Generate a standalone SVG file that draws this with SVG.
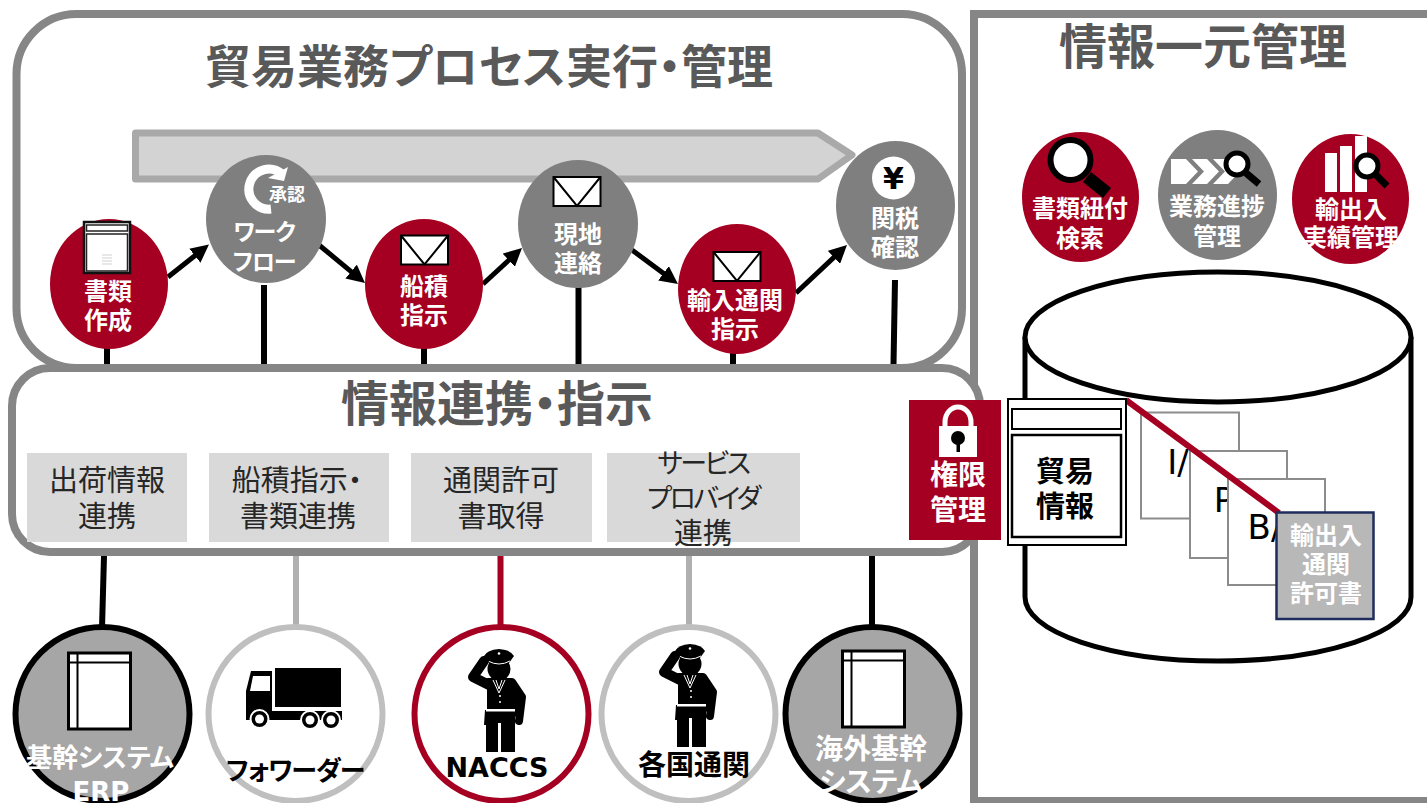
<svg xmlns="http://www.w3.org/2000/svg" width="1427" height="803" viewBox="0 0 1427 803">
<style>
text{font-family:"Noto Sans CJK JP","Noto Sans",sans-serif;text-anchor:middle;font-feature-settings:"palt"}
.panel{fill:#fff;stroke:#868686;stroke-width:8}
.title{font-size:46px;font-weight:700;fill:#595959}
.box{fill:#d9d9d9}
.lab{font-size:29px;font-weight:400;fill:#262626}
.kana{font-size:27px;letter-spacing:-2.500px}
.w{font-size:24px;font-weight:700;fill:#fff}
.wk{font-size:23px;letter-spacing:-1px}
.k{font-size:28px;font-weight:700;fill:#000}
.wb{font-size:26px;font-weight:700;fill:#fff}
.red{fill:#a50021}
.gry{fill:#7f7f7f}
.line{stroke:#000;stroke-width:6;fill:none}
.arr{stroke:#000;stroke-width:5;fill:none;marker-end:url(#ah)}
.env{fill:#fff;stroke:#000;stroke-width:2}
.mag{fill:#fff;stroke:#000}
.paper{fill:#fff;stroke:#8c8c8c;stroke-width:2}
.lat{font-family:"DejaVu Sans",sans-serif;font-size:34px;fill:#000}
</style>
<defs>
<marker id="ah" markerUnits="userSpaceOnUse" viewBox="0 0 18 18" markerWidth="18" markerHeight="18" refX="4" refY="9" orient="auto"><path d="M0 0L18 9L0 18z" fill="#000"/></marker>
<g id="envelope"><rect class="env" x="0" y="0" width="47" height="29"/><path d="M0 0L23.500 29L47 0" fill="none" stroke="#000" stroke-width="2"/></g>
<g id="sysdoc"><rect x="0" y="0" width="62" height="76" fill="#fff" stroke="#000" stroke-width="3"/><path d="M0 9.500H62M9 0V76" stroke="#000" stroke-width="2" fill="none"/></g>
<g id="officer">
<path d="M675 651Q678 645 690 644Q702 645 705 651L700 658H680z" fill="#000"/>
<circle cx="690" cy="664" r="11.500" fill="#000"/>
<path d="M679 656Q690 662 701 656" stroke="#fff" stroke-width="1" fill="none"/>
<circle cx="690" cy="648.500" r="1.300" fill="#fff"/>
<path d="M675 656L664 672L680 680" stroke="#000" stroke-width="10" stroke-linecap="round" stroke-linejoin="round" fill="none"/>
<path d="M679 677H703L713 692L710 716" stroke="#000" stroke-width="8" stroke-linecap="round" stroke-linejoin="round" fill="#000"/>
<path d="M676 705H706V747H692V718H689V747H677V720H675z" fill="#000"/>
<path d="M678 675H705V706H678z" fill="#000"/>
<path d="M684 675L690 688L696 675M687 675L690 684L693 675" stroke="#fff" stroke-width="1" fill="none"/>
<circle cx="691" cy="691" r="1" fill="#fff"/><circle cx="691" cy="697" r="1" fill="#fff"/>
<rect x="677" y="704" width="29" height="2.500" fill="#fff"/>
</g>
</defs>

<g id="panels">
<rect id="panel-info" class="panel" x="974" y="14" width="470" height="787"/>
<rect id="panel-process" class="panel" x="16.500" y="14" width="945.500" height="354" rx="60"/>
<rect id="panel-link" class="panel" x="12" y="368" width="968" height="184" rx="38"/>
<path id="banner" d="M135.500 133H818L852 155L818 179H135.500z" fill="#d3d3d3" stroke="#a9a9a9" stroke-width="7" stroke-linejoin="round"/>
<text class="title" x="489" y="83">貿易業務プロセス実行・管理</text>
<text class="title" x="1203" y="64" style="font-size:48px">情報一元管理</text>
<text class="title" x="497" y="421" style="font-size:48px">情報連携・指示</text>
</g>

<g id="connectors">
<path class="line" d="M107 345V364"/>
<path class="line" d="M264 285V364"/>
<path class="line" d="M424 346V364"/>
<path class="line" d="M578.500 284V364"/>
<path class="line" d="M733 350V364"/>
<path class="line" d="M895 280L893.500 364"/>
<path class="line" d="M104 556L102 628"/>
<path class="line" d="M296 556V628" style="stroke:#b0b0b0"/>
<path class="line" d="M500.500 556V628" style="stroke:#a50021"/>
<path class="line" d="M689 556V628" style="stroke:#b0b0b0"/>
<path class="line" d="M872 556V628"/>
<path class="arr" d="M168 277L198 253.200"/>
<path class="arr" d="M319 245L354.200 274.100"/>
<path class="arr" d="M483 284L511.700 257.500"/>
<path class="arr" d="M632 250L666.700 275.700"/>
<path class="arr" d="M796 293L836.800 254.600"/>
</g>

<g id="n-shorui">
<ellipse class="red" cx="109" cy="284" rx="59" ry="65"/>
<rect x="84" y="222" width="46" height="51" fill="#fff" stroke="#111" stroke-width="2.500"/>
<rect x="86.500" y="225" width="41" height="6" fill="#fff" stroke="#222" stroke-width="1.500"/>
<rect x="86.500" y="234" width="41" height="37" fill="#fff" stroke="#222" stroke-width="1.500"/>
<path d="M102 255H112M102 258H112M102 261H112M102 264H112" stroke="#bbb" stroke-width="0.700"/>
<text class="w" x="108" y="300">書類</text><text class="w" x="108" y="329">作成</text>
</g>
<g id="n-workflow">
<ellipse class="gry" cx="266" cy="219" rx="60" ry="64"/>
<path d="M282 174A20 20 0 1 0 271 209" fill="none" stroke="#fff" stroke-width="9"/>
<path d="M288 167L284 181L268 178z" fill="#fff"/>
<text x="287" y="201" style="font-size:18px;font-weight:700;fill:#fff">承認</text>
<text class="w wk" x="264" y="240">ワーク</text><text class="w wk" x="264" y="270">フロー</text>
</g>
<g id="n-funazumi">
<ellipse class="red" cx="424" cy="284" rx="59" ry="65"/>
<use href="#envelope" x="401" y="235.500"/>
<text class="w" x="424" y="295">船積</text><text class="w" x="424" y="324">指示</text>
</g>
<g id="n-genchi">
<ellipse class="gry" cx="578" cy="224" rx="60" ry="64"/>
<use href="#envelope" x="553.500" y="177"/>
<text class="w" x="578" y="243">現地</text><text class="w" x="578" y="272">連絡</text>
</g>
<g id="n-yunyu">
<ellipse class="red" cx="737" cy="289" rx="59" ry="65"/>
<use href="#envelope" x="713.500" y="252"/>
<text class="w" x="735" y="309">輸入通関</text><text class="w" x="735" y="338">指示</text>
</g>
<g id="n-kanzei">
<ellipse class="gry" cx="895.500" cy="205.500" rx="59.500" ry="64.500"/>
<circle cx="893.500" cy="178" r="21.500" fill="#fff"/>
<text x="893.500" y="189" style="font-family:'DejaVu Sans',sans-serif;font-size:30px;font-weight:700;fill:#000">¥</text>
<text class="w" x="895" y="227">関税</text><text class="w" x="895" y="256">確認</text>
</g>

<g id="n-kensaku">
<ellipse class="red" cx="1080.500" cy="197" rx="58.500" ry="65"/>
<path d="M1087 177L1107 193" stroke="#000" stroke-width="13"/>
<circle class="mag" cx="1070.500" cy="160" r="20" stroke-width="6"/>
<text class="w" x="1080" y="217">書類紐付</text><text class="w" x="1080" y="247">検索</text>
</g>
<g id="n-shinchoku">
<ellipse class="gry" cx="1217.500" cy="195" rx="59.500" ry="65"/>
<path d="M1171 159H1186L1198 171.500L1186 184H1171zM1192 159H1207L1219 171.500L1207 184H1192L1204 171.500zM1213 159H1228L1240 171.500L1228 184H1213L1225 171.500z" fill="#fff"/>
<path d="M1246 173L1259 184" stroke="#000" stroke-width="7"/>
<circle class="mag" cx="1237" cy="164" r="11" stroke-width="5"/>
<text class="w" x="1217" y="215">業務進捗</text><text class="w" x="1217" y="245">管理</text>
</g>
<g id="n-jisseki">
<ellipse class="red" cx="1350.500" cy="199" rx="58.500" ry="65"/>
<rect x="1325" y="153" width="12" height="39" fill="#fff"/><rect x="1340" y="146" width="12" height="46" fill="#fff"/><rect x="1355" y="136" width="12" height="56" fill="#fff"/>
<path d="M1376 175L1387 186" stroke="#000" stroke-width="7"/>
<circle class="mag" cx="1367" cy="166" r="11" stroke-width="5"/>
<text class="w" x="1351" y="218">輸出入</text><text class="w" x="1351" y="246">実績管理</text>
</g>

<g id="n-db">
<path d="M1025 337V597A193 64 0 0 0 1411 597V337" fill="#fff" stroke="#000" stroke-width="5"/>
<ellipse cx="1218" cy="337" rx="193" ry="65" fill="#fff" stroke="#000" stroke-width="5"/>
</g>
<g id="n-docs">
<rect class="paper" x="1141" y="412.500" width="98" height="106"/>
<text class="lat" x="1178" y="474">I/</text>
<rect class="paper" x="1190" y="451" width="97" height="107"/>
<text class="lat" x="1224" y="512">P</text>
<rect class="paper" x="1228" y="479" width="97" height="106"/>
<text class="lat" x="1265" y="539">B/</text>
<path d="M1126 400L1279 513" stroke="#a50021" stroke-width="6"/>
<rect x="1276.500" y="512.500" width="97" height="106.500" fill="#b8b8b8" stroke="#1f2d5c" stroke-width="2.500"/>
<text class="w" x="1326" y="544">輸出入</text><text class="w" x="1326" y="573">通関</text><text class="w" x="1326" y="602">許可書</text>
</g>
<g id="n-boeki">
<rect x="1008" y="399" width="118" height="146" fill="#fff" stroke="#000" stroke-width="2"/>
<rect x="1012" y="409" width="109" height="20" fill="#fff" stroke="#000" stroke-width="2"/>
<rect x="1012" y="435" width="109" height="102" fill="#fff" stroke="#000" stroke-width="2.500"/>
<text class="k" x="1065" y="482" style="font-size:29px">貿易</text><text class="k" x="1065" y="517" style="font-size:29px">情報</text>
</g>
<g id="n-kengen">
<rect class="red" x="909" y="400" width="92" height="140"/>
<path d="M945 428V422A13 15 0 0 1 971 422V428" fill="none" stroke="#fff" stroke-width="5"/>
<rect x="939" y="426" width="38" height="31" fill="#fff"/>
<circle cx="958" cy="438" r="7" fill="#000"/><rect x="956.500" y="440" width="3.500" height="12" fill="#000"/>
<text class="k" x="958" y="485" style="fill:#fff">権限</text><text class="k" x="958" y="520" style="fill:#fff">管理</text>
</g>

<g id="n-box1"><rect class="box" x="27" y="453" width="160" height="89"/><text class="lab" x="107" y="491">出荷情報</text><text class="lab" x="107" y="527">連携</text></g>
<g id="n-box2"><rect class="box" x="209" y="453" width="180" height="89"/><text class="lab" x="297" y="491">船積指示・</text><text class="lab" x="298" y="527">書類連携</text></g>
<g id="n-box3"><rect class="box" x="411" y="453" width="181" height="89"/><text class="lab" x="501" y="491">通関許可</text><text class="lab" x="501" y="527">書取得</text></g>
<g id="n-box4"><rect class="box" x="607" y="453" width="193" height="89"/><text class="lab kana" x="703" y="473">サービス</text><text class="lab kana" x="703" y="508">プロバイダ</text><text class="lab" x="703" y="544">連携</text></g>

<g id="n-erp">
<circle cx="102.500" cy="714" r="87" fill="#a6a6a6" stroke="#000" stroke-width="6"/>
<use href="#sysdoc" x="68.500" y="653"/>
<text class="wb" x="100" y="767">基幹システム</text>
<text class="wb" x="101" y="801" style="font-family:'DejaVu Sans',sans-serif">ERP</text>
</g>
<g id="n-forwarder">
<circle cx="295.500" cy="714" r="87" fill="#fff" stroke="#bfbfbf" stroke-width="6"/>
<rect x="275" y="668" width="66" height="39" fill="#000"/>
<path d="M251 671H272V711H342V720H246V691z" fill="#000"/>
<path d="M253 676H270V691H250z" fill="#fff"/>
<g fill="#000" stroke="#fff" stroke-width="2"><circle cx="259.500" cy="719" r="9"/><circle cx="310" cy="720" r="9"/><circle cx="331" cy="720" r="9"/></g>
<g fill="#fff"><circle cx="259.500" cy="719" r="4.500"/><circle cx="310" cy="720" r="4.500"/><circle cx="331" cy="720" r="4.500"/></g>
<text class="k" x="295" y="780" style="font-size:26px;letter-spacing:-1px">フォワーダー</text>
</g>
<g id="n-naccs">
<circle cx="501.500" cy="714" r="87" fill="#fff" stroke="#a50021" stroke-width="6"/>
<use href="#officer" x="-191" y="5"/>
<text x="497" y="777" style="font-family:'DejaVu Sans',sans-serif;font-size:27px;font-weight:700;fill:#000">NACCS</text>
</g>
<g id="n-customs">
<circle cx="688.500" cy="714" r="87" fill="#fff" stroke="#bfbfbf" stroke-width="6"/>
<use href="#officer"/>
<text x="694" y="775" style="font-size:28px;font-weight:700;fill:#000">各国通関</text>
</g>
<g id="n-overseas">
<circle cx="872.500" cy="714" r="87" fill="#a6a6a6" stroke="#000" stroke-width="6"/>
<use href="#sysdoc" x="842.500" y="651"/>
<text class="wb" x="871" y="759" style="font-size:28px">海外基幹</text>
<text class="wb" x="871" y="792" style="font-size:28px">システム</text>
</g>
</svg>
